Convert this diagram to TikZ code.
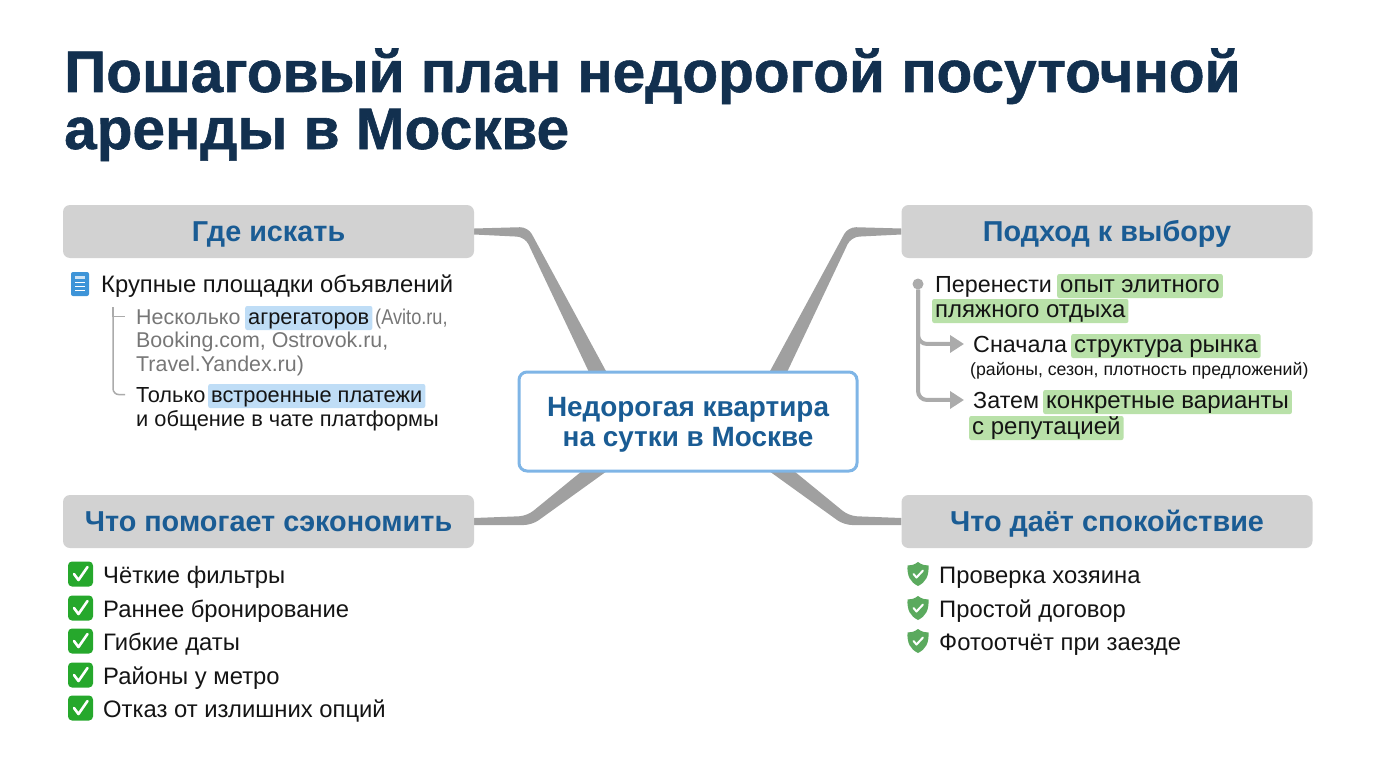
\documentclass[tikz,border=0pt]{standalone}
\usepackage{fontspec}
\setmainfont{Liberation Sans}
\newfontfamily\titlefont[FakeBold=1]{Liberation Sans Bold}
\usetikzlibrary{arrows.meta,backgrounds}

\definecolor{titleblue}{HTML}{12304F}
\definecolor{headblue}{HTML}{1A5C94}
\definecolor{boxgray}{HTML}{D2D2D2}
\definecolor{linkgray}{HTML}{A0A0A0}
\definecolor{treegray}{HTML}{ABABAB}
\definecolor{hubline}{HTML}{7FB5E6}
\definecolor{softgray}{HTML}{767676}
\definecolor{markblue}{HTML}{BFDDF6}
\definecolor{markgreen}{HTML}{B9E1A9}
\definecolor{checkgreen}{HTML}{26A82C}
\definecolor{shieldgreen}{HTML}{5BAA5E}
\definecolor{docblue}{HTML}{3D94D8}

\tikzset{
    titletext/.style={anchor=base west, inner sep=0pt, text=titleblue,
        font=\titlefont\fontsize{58.5}{70}\selectfont},
    headbox/.style={fill=boxgray, rounded corners=7pt, minimum width=411pt, minimum height=53pt,
        inner sep=0pt, text height=24pt, text depth=5pt, text=headblue,
        font=\bfseries\fontsize{28.8}{32}\selectfont},
    hubbox/.style={draw=hubline, line width=3pt, fill=white, rounded corners=8pt, align=center,
        minimum width=338pt, minimum height=99pt, inner sep=0pt, text=headblue,
        font=\bfseries\fontsize{27.9}{30}\selectfont},
    item/.style={anchor=base west, inner sep=0pt, text=black!92, font=\fontsize{23.8}{27}\selectfont},
    lineitem/.style={item, font=\fontsize{21.8}{25}\selectfont},
    softitem/.style={item, text=softgray, font=\fontsize{21.4}{25}\selectfont},
    leaditem/.style={item, font=\fontsize{23.3}{27}\selectfont},
    smallitem/.style={item, font=\fontsize{17.7}{20}\selectfont},
    markbase/.style={item, inner xsep=3pt, inner ysep=0pt, text height=18pt, text depth=6pt,
        rounded corners=2pt},
    blueitem/.style={markbase, fill=markblue, font=\fontsize{21.8}{25}\selectfont},
    greenitem/.style={markbase, fill=markgreen, font=\fontsize{24}{27}\selectfont},
    linkfill/.style={fill=linkgray},
    treeline/.style={draw=treegray, line width=1.5pt},
    treearrow/.style={draw=treegray, line width=4pt, rounded corners=9pt,
        -{Triangle[length=14pt,width=17pt]}},
    checkicon/.pic={
        \fill[checkgreen, rounded corners=4pt] (-12.5,-12.5) rectangle (12.5,12.5);
        \draw[white, line width=2.6pt, line cap=round, line join=round] (-6.5,0) -- (-2,6) -- (7,-7);
    },
    shieldicon/.pic={
        \fill[shieldgreen] (0,-12) .. controls (4,-9) and (7,-8.5) .. (10.5,-8.5)
            .. controls (11,2) and (8,8) .. (0,12) .. controls (-8,8) and (-11,2) .. (-10.5,-8.5)
            .. controls (-7,-8.5) and (-4,-9) .. (0,-12) -- cycle;
        \draw[white, line width=2pt, line cap=round, line join=round] (-4.5,0) -- (-1.5,3.5) -- (5,-3.5);
    },
    docicon/.pic={
        \fill[docblue, rounded corners=2pt] (-9,-12) rectangle (9,12);
        \fill[white!75!docblue] (-5,-8) rectangle (5,-5.5);
        \foreach \yy in {-2,2,6}
            \fill[white] (-5,\yy) rectangle (5,\yy+1.4);
    }
}

\begin{document}
\begin{tikzpicture}[x=1pt, y=-1pt]
    \useasboundingbox (0,0) rectangle (1376,768);

    % ================= Title =================
    \node[titletext] (titleA) at (64,92) {Пошаговый план недорогой посуточной};
    \node[titletext] (titleB) at (64,149) {аренды в Москве};

    % ================= Boxes =================
    \node[hubbox] (hub) at (688,421.5) {\rule{0pt}{26pt}Недорогая квартира\\на сутки в Москве};
    \node[headbox] (whereBox) at (268.5,231.5) {Где искать};
    \node[headbox] (pickBox) at (1107,231.5) {Подход к выбору};
    \node[headbox] (saveBox) at (268.5,521.5) {Что помогает сэкономить};
    \node[headbox] (calmBox) at (1107,521.5) {Что даёт спокойствие};

    % tapered links, behind the boxes
    \begin{scope}[on background layer]
        \fill[linkfill] ([yshift=3pt]whereBox.east) [rounded corners=8pt] -- (528,227) [sharp corners]
            -- ([xshift=-78pt,yshift=-8pt]hub.north) -- ([xshift=-96pt,yshift=-8pt]hub.north)
            [rounded corners=8pt] -- (525,237) [sharp corners] -- ([yshift=-3pt]whereBox.east) -- cycle;
        \fill[linkfill] ([yshift=3pt]pickBox.west) [rounded corners=8pt] -- (848,227) [sharp corners]
            -- ([xshift=78pt,yshift=-8pt]hub.north) -- ([xshift=96pt,yshift=-8pt]hub.north)
            [rounded corners=8pt] -- (851,237) [sharp corners] -- ([yshift=-3pt]pickBox.west) -- cycle;
        \fill[linkfill] ([yshift=3.5pt]saveBox.east) [rounded corners=8pt] -- (527,516) [sharp corners]
            -- ([xshift=-98pt,yshift=8pt]hub.south) -- ([xshift=-72pt,yshift=8pt]hub.south)
            [rounded corners=8pt] -- (532,525) [sharp corners] -- ([yshift=-3.5pt]saveBox.east) -- cycle;
        \fill[linkfill] ([yshift=3.5pt]calmBox.west) [rounded corners=8pt] -- (849,516) [sharp corners]
            -- ([xshift=98pt,yshift=8pt]hub.south) -- ([xshift=72pt,yshift=8pt]hub.south)
            [rounded corners=8pt] -- (844,525) [sharp corners] -- ([yshift=-3.5pt]calmBox.west) -- cycle;
    \end{scope}

    % ================= Where to look =================
    \pic at (80,284) {docicon};
    \node[item] (bigSites) at (101,292) {Крупные площадки объявлений};
    \node[softitem] (aggrA) at (136,324) {Несколько};
    \node[blueitem] (aggrMark) at (245,324) {агрегаторов};
    \node[softitem] (aggrB) at (375,324) {\scalebox{0.85}[1]{(Avito.ru,}};
    \node[softitem] (aggrC) at (136,347) {Booking.com, Ostrovok.ru,};
    \node[softitem] (aggrD) at (136,371) {Travel.Yandex.ru)};
    \node[lineitem] (payA) at (136,402) {Только};
    \node[blueitem] (payMark) at (208,402) {встроенные платежи};
    \node[lineitem] (payB) at (136,426) {и общение в чате платформы};

    \coordinate (treeTop) at (113,307);
    \draw[treeline, shorten >=11pt] (treeTop) |- (aggrA.west);
    \draw[treeline, rounded corners=6pt, shorten >=11pt] (treeTop) |- (payA.west);

    % ================= How to choose =================
    \node[circle, fill=treegray, minimum size=11pt, inner sep=0pt] (rootDot) at (918,284) {};
    \node[leaditem] (carryA) at (935,292) {Перенести};
    \node[greenitem] (carryMark) at (1057,292) {опыт элитного};
    \node[greenitem] (carryB) at (932,317) {пляжного отдыха};
    \node[leaditem] (firstA) at (973,352) {Сначала};
    \node[greenitem] (firstMark) at (1071,352) {структура рынка};
    \node[smallitem] (firstB) at (970,375) {(районы, сезон, плотность предложений)};
    \node[leaditem] (thenA) at (973,408) {Затем};
    \node[greenitem] (thenMark) at (1043,408) {конкретные варианты};
    \node[greenitem] (thenB) at (969,434) {с репутацией};

    \draw[treearrow, shorten >=9pt] (rootDot) |- (firstA.west);
    \draw[treearrow, shorten >=9pt] (rootDot) |- (thenA.west);

    % ================= Savings =================
    \foreach \n/\yy/\txt in {1/583/Чёткие фильтры, 2/617/Раннее бронирование, 3/650/Гибкие даты,
                             4/684/Районы у метро, 5/717/Отказ от излишних опций} {
        \pic at (80.5,\yy-9) {checkicon};
        \node[item] (save\n) at (103,\yy) {\txt};
    }

    % ================= Calm =================
    \foreach \n/\yy/\txt in {1/583/Проверка хозяина, 2/617/Простой договор, 3/650/Фотоотчёт при заезде} {
        \pic at (918,\yy-9) {shieldicon};
        \node[item] (calm\n) at (939,\yy) {\txt};
    }

\end{tikzpicture}
\end{document}
